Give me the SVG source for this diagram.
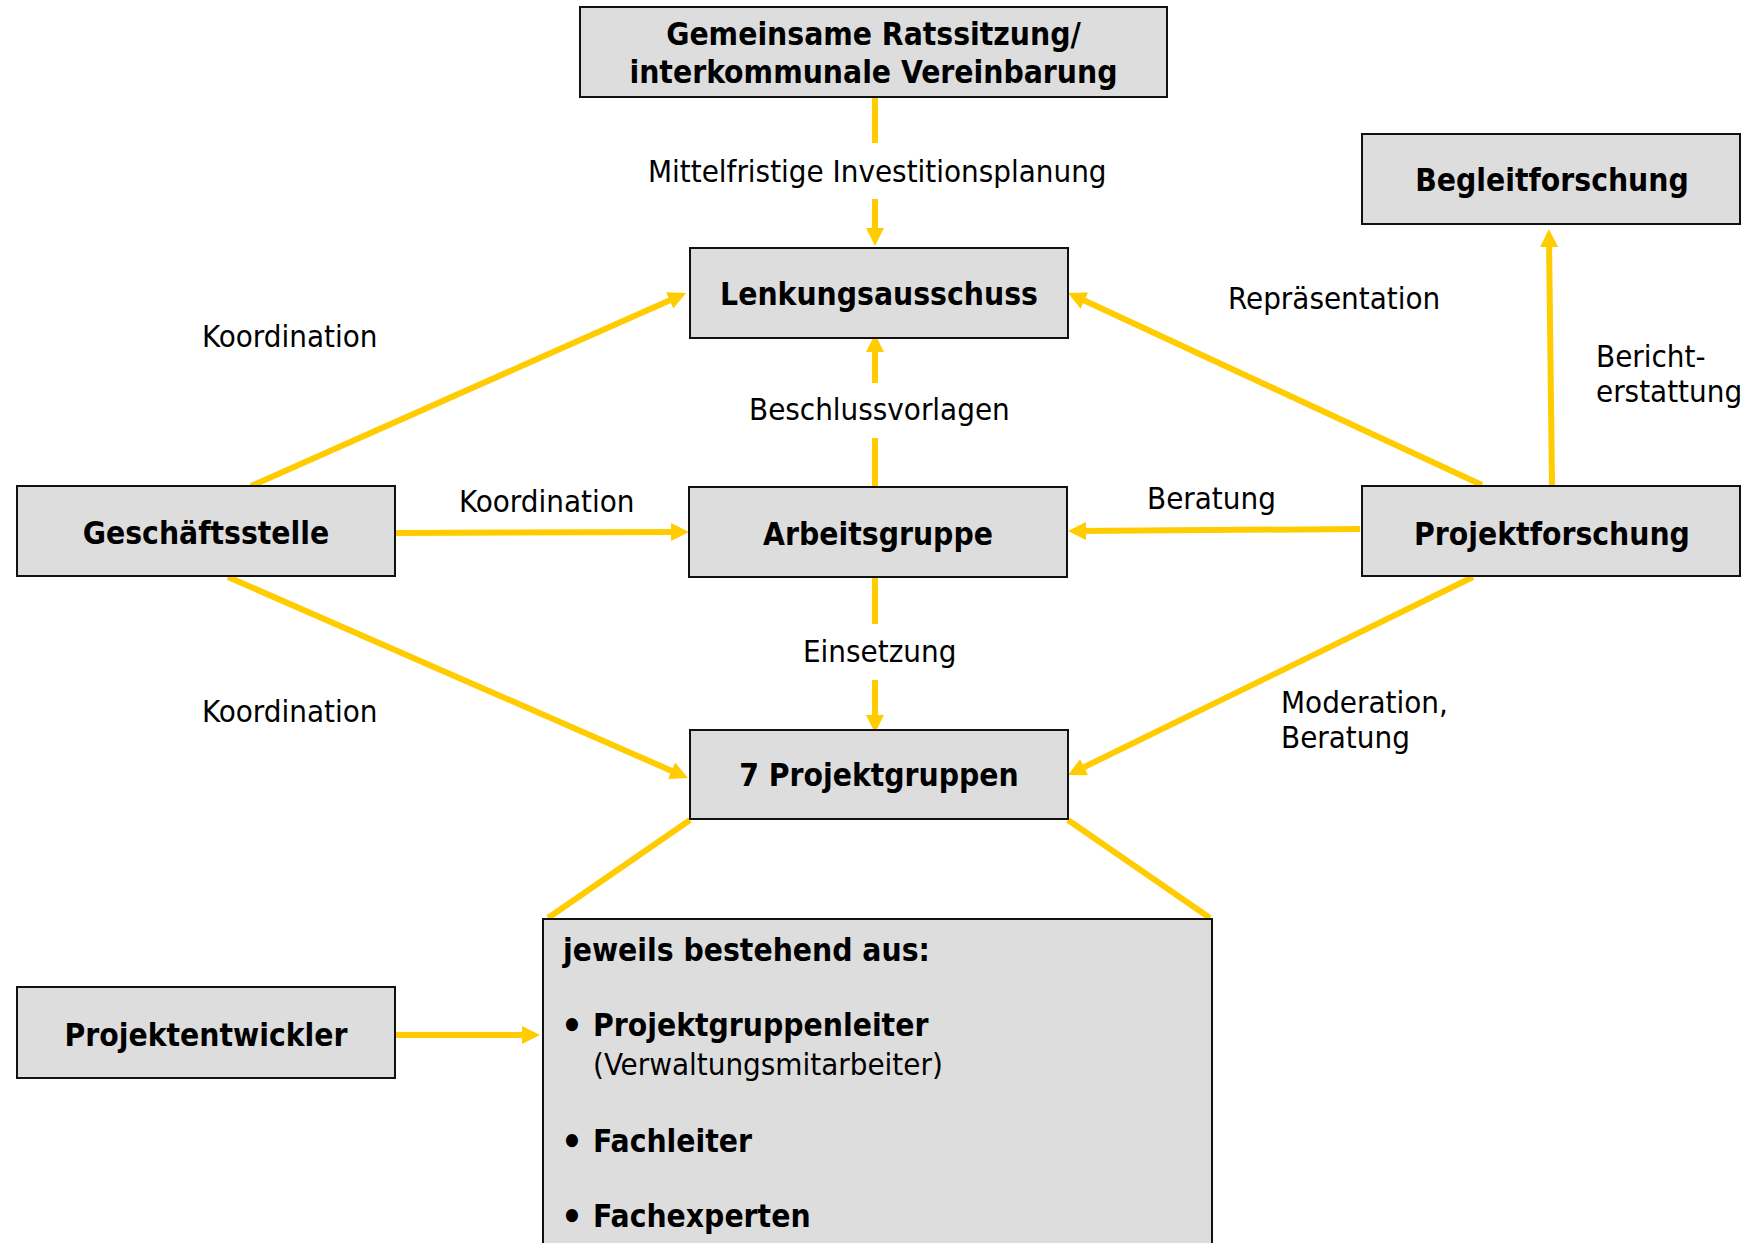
<svg xmlns="http://www.w3.org/2000/svg" width="1748" height="1243" viewBox="0 0 1748 1243">
<style>
.box{fill:#dddddd;stroke:#111111;stroke-width:2}
.b{font-family:'DejaVu Sans Condensed','DejaVu Sans',sans-serif;font-weight:bold;font-size:31.5px;fill:#000}
.m{text-anchor:middle}
.bu{font-size:38px}
.r{font-family:'DejaVu Sans Condensed','DejaVu Sans',sans-serif;font-size:31px;fill:#000}
.c{fill:none;stroke:#ffcc00;stroke-width:6}
</style>
<defs>
<marker id="ah" viewBox="0 0 18 18" markerWidth="18" markerHeight="18" refX="9" refY="9" markerUnits="userSpaceOnUse" orient="auto">
<path d="M0,0 L18,9 L0,18 z" fill="#ffcc00"/>
</marker>
</defs>
<rect width="1748" height="1243" fill="#ffffff"/>
<g id="connectors">
<line class="c" x1="875" y1="98" x2="875" y2="143"/>
<line class="c" x1="875" y1="199" x2="875" y2="237" marker-end="url(#ah)"/>
<line class="c" x1="875" y1="486" x2="875" y2="438"/>
<line class="c" x1="875" y1="383" x2="875" y2="343" marker-end="url(#ah)"/>
<line class="c" x1="875" y1="578" x2="875" y2="624"/>
<line class="c" x1="875" y1="680" x2="875" y2="724" marker-end="url(#ah)"/>
<line class="c" x1="251" y1="486" x2="677.8" y2="296.7" marker-end="url(#ah)"/>
<line class="c" x1="396" y1="533" x2="680" y2="532" marker-end="url(#ah)"/>
<line class="c" x1="228" y1="577" x2="679.8" y2="774.4" marker-end="url(#ah)"/>
<line class="c" x1="1482" y1="485" x2="1076.2" y2="296.8" marker-end="url(#ah)"/>
<line class="c" x1="1360" y1="529" x2="1077" y2="531" marker-end="url(#ah)"/>
<line class="c" x1="1473" y1="577" x2="1076.1" y2="771" marker-end="url(#ah)"/>
<line class="c" x1="1552" y1="485" x2="1549" y2="238" marker-end="url(#ah)"/>
<line class="c" x1="396" y1="1035" x2="531" y2="1035" marker-end="url(#ah)"/>
<line class="c" x1="690" y1="820" x2="548" y2="918"/>
<line class="c" x1="1068" y1="820" x2="1210" y2="918"/>
</g>
<g id="labels">
<text class="r" x="648" y="182">Mittelfristige Investitionsplanung</text>
<text class="r" x="202" y="347">Koordination</text>
<text class="r" x="459" y="512">Koordination</text>
<text class="r" x="202" y="722">Koordination</text>
<text class="r" x="1228" y="309">Repräsentation</text>
<text class="r" x="749" y="420">Beschlussvorlagen</text>
<text class="r" x="1147" y="509">Beratung</text>
<text class="r" x="803" y="662">Einsetzung</text>
<text class="r" x="1596" y="367">Bericht-</text>
<text class="r" x="1596" y="402">erstattung</text>
<text class="r" x="1281" y="713">Moderation,</text>
<text class="r" x="1281" y="748">Beratung</text>
</g>
<g id="n-rat">
<rect class="box" x="580" y="7" width="587" height="90"/>
<text class="b m" x="873.5" y="45">Gemeinsame Ratssitzung/</text>
<text class="b m" x="873.5" y="83">interkommunale Vereinbarung</text>
</g>
<g id="n-lenkung">
<rect class="box" x="690" y="248" width="378" height="90"/>
<text class="b m" x="879" y="305">Lenkungsausschuss</text>
</g>
<g id="n-arbeitsgruppe">
<rect class="box" x="689" y="487" width="378" height="90"/>
<text class="b m" x="878" y="545">Arbeitsgruppe</text>
</g>
<g id="n-projektgruppen">
<rect class="box" x="690" y="730" width="378" height="89"/>
<text class="b m" x="879" y="786">7 Projektgruppen</text>
</g>
<g id="n-geschaeftsstelle">
<rect class="box" x="17" y="486" width="378" height="90"/>
<text class="b m" x="206" y="544">Geschäftsstelle</text>
</g>
<g id="n-projektforschung">
<rect class="box" x="1362" y="486" width="378" height="90"/>
<text class="b m" x="1552" y="545">Projektforschung</text>
</g>
<g id="n-begleitforschung">
<rect class="box" x="1362" y="134" width="378" height="90"/>
<text class="b m" x="1552" y="191">Begleitforschung</text>
</g>
<g id="n-projektentwickler">
<rect class="box" x="17" y="987" width="378" height="91"/>
<text class="b m" x="206" y="1046">Projektentwickler</text>
</g>
<g id="n-zusammensetzung">
<rect class="box" x="543" y="919" width="669" height="340"/>
<text class="b" x="563" y="961">jeweils bestehend aus:</text>
<text class="b bu" x="561" y="1039">•</text>
<text class="b" x="593" y="1036">Projektgruppenleiter</text>
<text class="r" x="593" y="1075">(Verwaltungsmitarbeiter)</text>
<text class="b bu" x="561" y="1155">•</text>
<text class="b" x="593" y="1152">Fachleiter</text>
<text class="b bu" x="561" y="1230">•</text>
<text class="b" x="593" y="1227">Fachexperten</text>
</g>
</svg>
